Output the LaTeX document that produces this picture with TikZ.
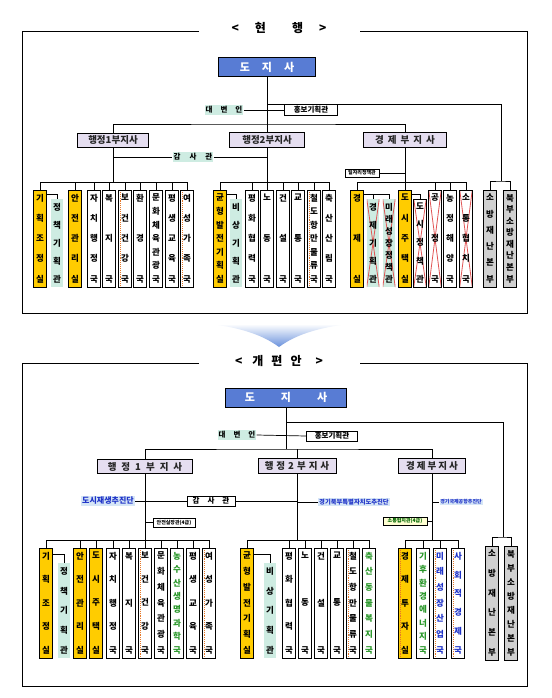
\documentclass[tikz,border=0pt]{standalone}
\usepackage{fontspec}
\setmainfont{Noto Sans CJK KR}
\usetikzlibrary{calc}
\definecolor{yel}{RGB}{255,204,0}
\definecolor{tealf}{RGB}{206,236,226}
\definecolor{lav}{RGB}{229,222,240}
\definecolor{grayf}{RGB}{208,208,208}
\definecolor{govblue}{RGB}{88,124,212}
\definecolor{blueT}{RGB}{30,50,200}
\definecolor{lblue}{RGB}{214,230,246}
\definecolor{greenT}{RGB}{40,150,40}
\definecolor{xred}{RGB}{225,85,85}
\definecolor{arrowc}{RGB}{105,145,220}
\definecolor{mkc}{RGB}{230,120,40}
\definecolor{paley}{RGB}{255,255,210}
\makeatletter
\newcommand\vchars[1]{\@tempswafalse\@tfor\vc@c:=#1\do{\if@tempswa\vfill\fi\@tempswatrue\hbox to\hsize{\hss\vc@c\hss}}}
\makeatother
\newcommand\vbx[6][]{\node[ob,#1,minimum height={#5-#4}] (#2) at (#3,{(#4+#5)/2}) {\parbox[c][\dimexpr#5pt-#4pt-9pt\relax][s]{12pt}{\vchars{#6}}};}
\tikzset{
  ln/.style={line width=0.7pt},
  fr/.style={line width=0.9pt},
  ob/.style={draw, line width=0.6pt, inner sep=0pt, minimum width=12.5pt, fill=white, font=\fontsize{8.5}{9}\selectfont\bfseries},
  yb/.style={fill=yel},
  tb/.style={fill=tealf, draw=none},
  gb/.style={fill=grayf},
  mk/.style={path picture={\draw[mkc, densely dotted, line width=0.9pt] ([xshift=1.6pt]path picture bounding box.north west) -- ([xshift=1.6pt]path picture bounding box.south west);}},
  xx/.style={path picture={\draw[xred, line width=0.8pt] (path picture bounding box.north west) -- (path picture bounding box.south east) (path picture bounding box.north east) -- (path picture bounding box.south west);}},
  ttl/.style={font=\fontsize{12}{13}\selectfont\bfseries, fill=white, inner sep=1pt},
  gv/.style={draw=black, line width=0.6pt, fill=govblue, text=white, font=\fontsize{11}{12}\selectfont\bfseries, inner sep=0pt},
  vp/.style={draw, line width=0.7pt, fill=lav, inner sep=0pt, font=\fontsize{9.5}{10}\selectfont\bfseries, text=black!85},
  tl/.style={fill=tealf, inner sep=1pt, font=\fontsize{7.5}{8}\selectfont\bfseries},
  wb/.style={draw, line width=0.6pt, fill=white, inner sep=1pt, font=\fontsize{7.5}{8}\selectfont\bfseries},
  sm/.style={draw, line width=0.5pt, fill=white, inner sep=1pt, font=\fontsize{5}{5.5}\selectfont\bfseries},
  bl/.style={fill=lblue, text=blueT, inner sep=0.8pt, font=\bfseries}
}
\begin{document}
\begin{tikzpicture}[x=1pt,y=-1pt]
\useasboundingbox (0,0) rectangle (551,698);
\fill[white] (0,0) rectangle (551,698);

%================ CURRENT =================
\draw[fr] (199,31) -- (22,31) -- (22,313) -- (527,313) -- (527,31) -- (360,31);
\node[ttl] (t1) at (279,28) {<\hspace{16pt}현\hspace{26pt}행\hspace{16pt}>};

\node[gv, minimum width=97, minimum height=19] (gov1) at (267,67) {도\hspace{12pt}지\hspace{12pt}사};
\node[tl] (spk1) at (224,110) {대\hspace{8pt}변\hspace{8pt}인};
\node[wb, minimum width=53, minimum height=11] (pr1) at (311,110) {홍보기획관};
\node[vp, minimum width=71, minimum height=14] (vice1) at (113,140) {행정1부지사};
\node[vp, minimum width=75, minimum height=15] (vice2) at (267,140) {행정2부지사};
\node[vp, minimum width=83, minimum height=15] (vice3) at (405,140) {경\hspace{4pt}제\hspace{4pt}부\hspace{4pt}지\hspace{4pt}사};
\node[tl] (aud1) at (193,157) {감\hspace{9pt}사\hspace{9pt}관};
\node[sm, minimum width=34, minimum height=8] (pol1) at (362,173) {일자리정책관};

\coordinate (j1) at (267,124);
\coordinate (j2) at (267,104);
\coordinate (fj1) at (501,181);
\coordinate (r1) at (0,182);

\draw[ln] (gov1.south) -- (vice2.north);
\draw[ln] (spk1.east) -- (pr1.west);
\draw[ln] (vice1.north) |- (j1) -| (vice3.north);
\draw[ln] (j2) -| (fj1);
\draw[ln] (aud1.west -| vice1.south) -- (aud1.west);
\draw[ln] (aud1.east) -- (aud1.east -| vice2.south);
\draw[ln] (pol1.east) -- (pol1.east -| vice3.south);
\draw[ln] (vice1.south) -- (vice1.south |- r1);
\draw[ln] (vice2.south) -- (vice2.south |- r1);
\draw[ln] (vice3.south) -- (vice3.south |- r1);

% row 1
\vbx[yb]{a1}{40}{190}{287}{기획조정실}
\vbx[tb]{a2}{57}{199}{287}{정책기획관}
\vbx[yb]{a3}{75}{190}{287}{안전관리실}
\vbx{a4}{94}{190}{287}{자치행정국}
\vbx{a5}{109}{190}{287}{복지국}
\vbx[mk]{a6}{125}{190}{287}{보건건강국}
\vbx{a7}{140}{190}{287}{환경국}
\vbx{a8}{156}{190}{287}{문화체육관광국}
\vbx{a9}{172}{190}{287}{평생교육국}
\vbx[mk]{a10}{187}{190}{287}{여성가족국}
% row 2
\vbx[yb]{b1}{220}{190}{287}{균형발전기획실}
\vbx[tb]{b2}{236}{199}{287}{비상기획관}
\vbx{b3}{252}{190}{287}{평화협력국}
\vbx{b4}{267}{190}{287}{노동국}
\vbx{b5}{283}{190}{287}{건설국}
\vbx{b6}{298}{190}{287}{교통국}
\vbx[mk]{b7}{314}{190}{287}{철도항만물류국}
\vbx{b8}{329}{190}{287}{축산산림국}
% row 3
\vbx[yb]{c1}{357}{190}{287}{경제실}
\vbx[tb,xx]{c2}{373}{199}{287}{경제기획관}
\vbx[tb,xx]{c3}{389}{199}{287}{미래성장정책관}
\vbx[yb]{c4}{405}{190}{287}{도시주택실}
\vbx[xx]{c5}{420}{199}{287}{도시정책관}
\vbx[xx]{c6}{435}{190}{287}{공정국}
\vbx{c7}{450}{190}{287}{농정해양국}
\vbx[xx]{c8}{466}{190}{287}{소통협치국}
% fire
\vbx[gb]{f1}{490}{190}{287}{소방재난본부}
\vbx[gb]{f2}{510}{190}{287}{북부소방재난본부}

\draw[ln] (a1.north |- r1) -- (a10.north |- r1);
\draw[ln] (b1.north |- r1) -- (b8.north |- r1);
\draw[ln] (c1.north |- r1) -- (c8.north |- r1);
\foreach \n in {a1,a3,a4,a5,a6,a7,a8,a9,a10,b1,b3,b4,b5,b6,b7,b8,c1,c4,c6,c7,c8}
  \draw[ln] (\n.north) -- (\n.north |- r1);
\draw[ln] ([yshift=-5pt]a1.north east) -| (a2.north);
\draw[ln] ([yshift=-5pt]b1.north east) -| (b2.north);
\coordinate (cc) at ([yshift=-5pt]c1.north east);
\draw[ln] (cc) -| (c3.north);
\draw[ln] (c2.north) -- (c2.north |- cc);
\draw[ln] ([yshift=-5pt]c4.north east) -| (c5.north);
\draw[ln] (f1.north) |- (fj1) -| (f2.north);

%================ ARROW =================
\shade[top color=white, bottom color=arrowc] (211,324) .. controls (250,329) and (268,339) .. (279,347) .. controls (290,339) and (308,329) .. (348,324) -- cycle;

%================ NEW =================
\draw[fr] (199,363) -- (22,363) -- (22,686) -- (527,686) -- (527,363) -- (360,363);
\node[ttl] (t2) at (279,361) {<\hspace{10pt}개\hspace{8pt}편\hspace{8pt}안\hspace{14pt}>};

\node[gv, minimum width=121, minimum height=19] (gov2) at (286,397.5) {도\hspace{26pt}지\hspace{26pt}사};
\node[tl] (spk2) at (237,435) {대\hspace{8pt}변\hspace{8pt}인};
\node[wb, minimum width=51, minimum height=10] (pr2) at (332,436) {홍보기획관};
\node[vp, minimum width=95, minimum height=14] (p1) at (145,466.5) {행\hspace{5pt}정\hspace{5pt}1\hspace{5pt}부\hspace{5pt}지\hspace{5pt}사};
\node[vp, minimum width=78, minimum height=15] (p2) at (297,466) {행\hspace{3pt}정\hspace{3pt}2\hspace{3pt}부\hspace{3pt}지\hspace{3pt}사};
\node[vp, minimum width=67, minimum height=15] (p3) at (432,466) {경\hspace{2pt}제\hspace{2pt}부\hspace{2pt}지\hspace{2pt}사};
\node[bl, font=\fontsize{8}{9}\selectfont\bfseries] (reg) at (108,501) {도시재생추진단};
\node[wb, minimum width=48, minimum height=10] (aud2) at (211,501) {감\hspace{8pt}사\hspace{8pt}관};
\node[bl, font=\fontsize{6.3}{7}\selectfont\bfseries] (nb) at (354,502) {경기북부특별자치도추진단};
\node[bl, font=\fontsize{5}{6}\selectfont\bfseries] (ap) at (461,502) {경기국제공항추진단};
\node[sm, minimum width=42, minimum height=9] (saf) at (174,522.5) {안전실장관(4급)};
\node[sm, fill=paley, text=green!40!black, minimum width=44, minimum height=8] (com) at (405,521) {소통협치관(4급)};

\coordinate (j3) at (286,449);
\coordinate (j4) at (286,422);
\coordinate (fj2) at (503,537);
\coordinate (r2) at (0,540);

\draw[ln] (gov2.south) -- (j3);
\draw[ln] (spk2.east) -- (pr2.west);
\draw[ln] (p1.north) |- (j3) -| (p3.north);
\draw[ln] (p2.north) -- (p2.north |- j3);
\draw[ln] (j4) -| (fj2);
\draw[ln] (reg.east) -- (aud2.west);
\draw[ln] (aud2.east) -- (aud2.east -| p2.south);
\draw[ln] (nb.west -| p2.south) -- (nb.west);
\draw[ln] (saf.west -| p1.south) -- (saf.west);
\draw[ln] (com.east) -- (com.east -| p3.south);
\draw[ln] (ap.west -| p3.south) -- (ap.west);
\draw[ln] (p1.south) -- (p1.south |- r2);
\draw[ln] (p2.south) -- (p2.south |- r2);
\draw[ln] (p3.south) -- (p3.south |- r2);

% row 1
\vbx[yb]{d1}{46}{548}{658}{기획조정실}
\vbx[tb]{d2}{64}{563}{658}{정책기획관}
\vbx[yb]{d3}{80}{548}{658}{안전관리실}
\vbx[yb]{d4}{96}{548}{658}{도시주택실}
\vbx{d5}{113}{548}{658}{자치행정국}
\vbx{d6}{129}{548}{658}{복지국}
\vbx[mk]{d7}{145}{548}{658}{보건건강국}
\vbx{d8}{161}{548}{658}{문화체육관광국}
\vbx[text=greenT]{d9}{177}{548}{658}{농수산생명과학국}
\vbx{d10}{193}{548}{658}{평생교육국}
\vbx[mk]{d11}{209}{548}{658}{여성가족국}
% row 2
\vbx[yb]{e1}{247}{548}{658}{균형발전기획실}
\vbx[tb]{e2}{270}{563}{658}{비상기획관}
\vbx{e3}{289}{548}{658}{평화협력국}
\vbx{e4}{305}{548}{658}{노동국}
\vbx{e5}{321}{548}{658}{건설국}
\vbx{e6}{337}{548}{658}{교통국}
\vbx[mk]{e7}{353}{548}{658}{철도항만물류국}
\vbx[text=greenT]{e8}{369}{548}{658}{축산동물복지국}
% row 3
\vbx[yb,mk]{k1}{405}{548}{658}{경제투자실}
\vbx[text=greenT]{k2}{423}{548}{658}{기후환경에너지국}
\vbx[mk,text=blueT]{k3}{440}{548}{658}{미래성장산업국}
\vbx[mk,text=blueT]{k4}{458}{548}{658}{사회적경제국}
% fire
\vbx[gb]{h1}{492}{546}{660}{소방재난본부}
\vbx[gb]{h2}{511}{546}{660}{북부소방재난본부}

\draw[ln] (d1.north |- r2) -- (d11.north |- r2);
\draw[ln] (e1.north |- r2) -- (e8.north |- r2);
\draw[ln] (k1.north |- r2) -- (k4.north |- r2);
\foreach \n in {d1,d3,d4,d5,d6,d7,d8,d9,d10,d11,e1,e3,e4,e5,e6,e7,e8,k1,k2,k3,k4}
  \draw[ln] (\n.north) -- (\n.north |- r2);
\draw[ln] ([yshift=-7pt]d1.north east) -| (d2.north);
\draw[ln] ([yshift=-7pt]e1.north east) -| (e2.north);
\draw[ln] (h1.north) |- (fj2) -| (h2.north);
\end{tikzpicture}
\end{document}
